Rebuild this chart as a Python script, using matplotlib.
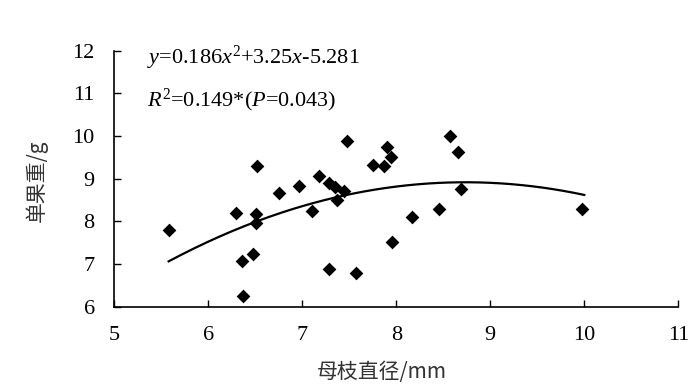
import matplotlib
matplotlib.use("Agg")
import matplotlib.pyplot as plt
import numpy as np

plt.rcParams['font.family'] = ['Liberation Serif']
plt.rcParams['mathtext.fontset'] = 'custom'
plt.rcParams['mathtext.rm'] = 'Liberation Serif'
plt.rcParams['mathtext.it'] = 'Liberation Serif:italic'

diameter = [5.58, 6.30, 6.52, 6.51, 6.51, 6.36, 6.48, 6.37, 6.75, 6.97,
            7.10, 7.18, 7.29, 7.35, 7.44, 7.37, 7.48, 7.29, 7.57, 7.75,
            7.87, 7.90, 7.95, 7.96, 8.17, 8.46, 8.57, 8.66, 8.69, 9.98]
weight = [7.80, 8.20, 9.30, 8.17, 7.95, 7.08, 7.23, 6.26, 8.67, 8.83,
          8.24, 9.07, 8.91, 8.81, 8.72, 8.50, 9.89, 6.88, 6.78, 9.32,
          9.30, 9.75, 9.50, 7.51, 8.10, 8.30, 10.00, 9.62, 8.76, 8.30]
coef = [-0.186, 3.25, -5.281]
fit_range = [5.58, 10.0]
xticks = [5, 6, 7, 8, 9, 10, 11]
yticks = [6, 7, 8, 9, 10, 11, 12]

fig = plt.figure(figsize=(7, 3.88), dpi=100)
ax = fig.add_axes([0.163, 0.2095, 0.806, 0.66])

ax.scatter(diameter, weight, marker='D', s=7**2, color='black', zorder=3, linewidths=0)
xs = np.linspace(fit_range[0], fit_range[1], 200)
ax.plot(xs, np.polyval(coef, xs), color='black', lw=1.6, zorder=2)

ax.set_xlim(5, 11)
ax.set_ylim(6, 12)
ax.set_xticks(xticks)
ax.set_yticks(yticks)
ax.tick_params(direction='in', length=5, width=1, labelsize=16)
ax.tick_params(axis='x', pad=14)
ax.tick_params(axis='y', pad=14)
for s in ['top', 'right']:
    ax.spines[s].set_visible(False)
for s in ['left', 'bottom']:
    ax.spines[s].set_linewidth(1.2)

ax.text(5.35, 11.82, r'$y$=0.186$x^{2}$+3.25$x$-5.281', fontsize=16, va='center', ha='left')
ax.text(5.35, 10.84, r'$R^{2}$=0.149*($P$=0.043)', fontsize=16, va='center', ha='left')

cjk = ['Noto Sans CJK SC', 'Liberation Serif']
fig.text(0.546, 0.04, '母枝直径/mm', family=cjk, fontsize=15, color='#333333',
         ha='center', va='center', fontweight='light')
fig.text(0.053, 0.535, '单果重/g', family=cjk, fontsize=15, color='#333333',
         ha='center', va='center', rotation=90, fontweight='light')

fig.savefig('out.png', dpi=100)
